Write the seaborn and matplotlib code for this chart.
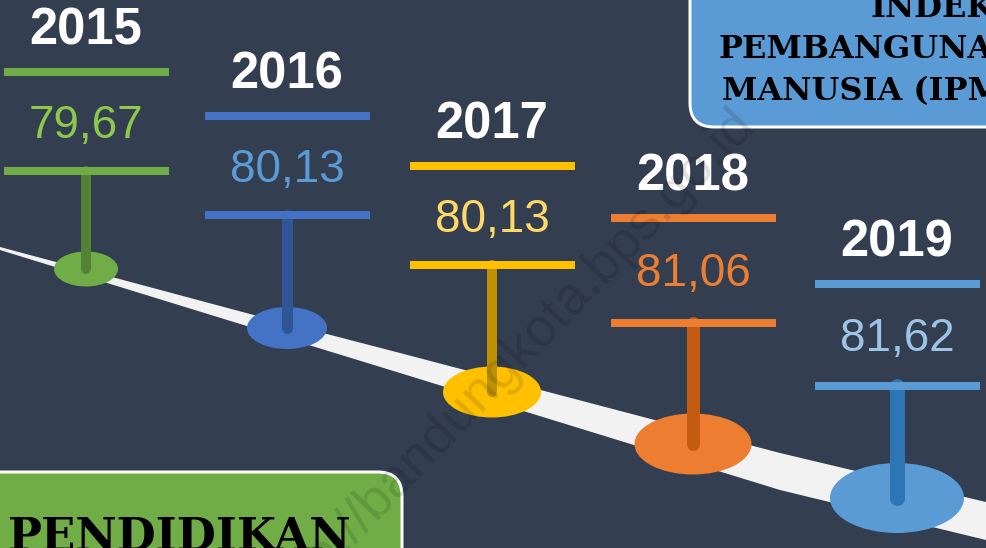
import numpy as np
import matplotlib.pyplot as plt
import seaborn as sns
from matplotlib.patches import Ellipse, FancyBboxPatch, Polygon

sns.set_theme(style="dark")

# data
years = ["2015", "2016", "2017", "2018", "2019"]
ipm = [79.67, 80.13, 80.13, 81.06, 81.62]
title_lines = ["INDEKS", "PEMBANGUNAN", "MANUSIA (IPM)"]
category = "PENDIDIKAN"

# colours per year
main_col = ["#70AD47", "#4472C4", "#FFC000", "#ED7D31", "#5B9BD5"]
stem_col = ["#548235", "#2F5597", "#BF9000", "#C55A11", "#2E75B6"]
value_col = ["#8CC84B", "#5B9BD5", "#FFD966", "#ED7D31", "#9DC3E6"]

# layout in pixels (y down)
x_mid = [86, 287, 492, 693, 897]
bar_top = [72, 116, 166, 218, 284]
bar_bot = [171, 215, 265, 323, 386]
foot_y = [269, 328, 392, 444, 498]
foot_w = [64, 80, 98, 117, 134]
foot_h = [35, 42, 51, 61, 70]
stem_w = [10, 11, 10, 13, 15]
title_x = [870, 718, 722]
title_base = [17, 58, 100]

bg = "#333E50"
W, H = 986, 548

fig = plt.figure(figsize=(W / 100, H / 100), dpi=100, facecolor=bg)
ax = fig.add_axes([0, 0, 1, 1])
ax.set_xlim(0, W)
ax.set_ylim(H, 0)
ax.set_facecolor(bg)
ax.axis("off")

px = 72 / 100  # points per pixel

# road
road = Polygon([(0, 247), (250, 314), (400, 353), (780, 453), (986, 502),
                (986, 540), (780, 490), (400, 373), (250, 327), (0, 250)],
               closed=True, facecolor="#F2F2F2", edgecolor="none", zorder=1)
ax.add_patch(road)

for i, yr in enumerate(years):
    x = x_mid[i]
    ax.add_patch(Ellipse((x, foot_y[i]), foot_w[i], foot_h[i],
                         facecolor=main_col[i], edgecolor="none", zorder=2))
    ax.plot([x, x], [bar_bot[i], foot_y[i]], color=stem_col[i],
            lw=stem_w[i] * px, solid_capstyle="round", zorder=3)
    for yy in (bar_top[i], bar_bot[i]):
        ax.plot([x - 82.5, x + 82.5], [yy, yy], color=main_col[i],
                lw=8 * px, solid_capstyle="butt", zorder=4)
    ax.text(x, bar_top[i] - 41, yr, color="white", fontsize=36.5,
            fontweight="bold", family="Liberation Sans",
            ha="center", va="center", zorder=5)
    ax.text(x, (bar_top[i] + bar_bot[i]) / 2 + 4,
            f"{ipm[i]:.2f}".replace(".", ","), color=value_col[i],
            fontsize=33, family="Liberation Sans",
            ha="center", va="center", zorder=5)

# title box top right
ax.add_patch(FancyBboxPatch((690, -60), 400, 187,
                            boxstyle="round,pad=0,rounding_size=24",
                            facecolor="#5B9BD5", edgecolor="white",
                            lw=3 * px, zorder=6))
for line, tx, ty in zip(title_lines, title_x, title_base):
    ax.text(tx, ty, line, color="black", fontsize=23, fontweight="bold",
            family="DejaVu Serif", ha="left", va="baseline", zorder=7)

# category box bottom left
ax.add_patch(FancyBboxPatch((-60, 472), 462, 160,
                            boxstyle="round,pad=0,rounding_size=24",
                            facecolor="#70AD47", edgecolor="white",
                            lw=3 * px, zorder=6))
ax.text(8, 550, category, color="black", fontsize=32.5,
        fontweight="bold", family="DejaVu Serif",
        ha="left", va="baseline", zorder=7)

# watermark
ax.text(756, 126, "http://bandungkota.bps.go.id", color="black", alpha=0.12,
        fontsize=39, family="Liberation Sans", rotation=46,
        rotation_mode="anchor", ha="right", va="baseline", zorder=8)

fig.savefig("out.png", dpi=100, facecolor=bg)
